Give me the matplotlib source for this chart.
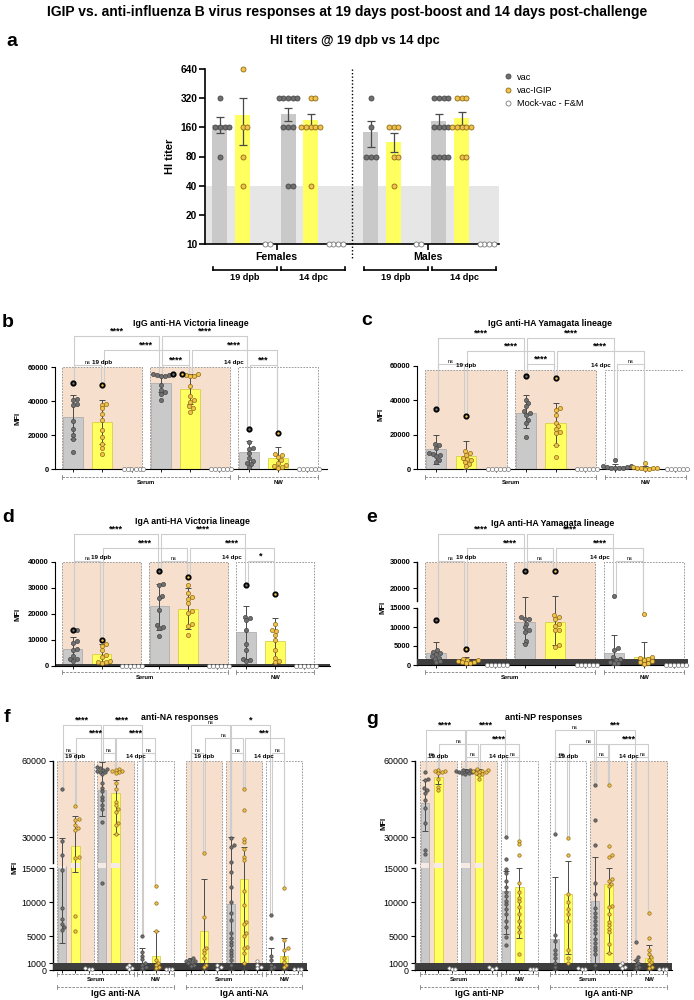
import numpy as np
import matplotlib.pyplot as plt
from matplotlib.lines import Line2D
from matplotlib.patches import Rectangle
from matplotlib.ticker import NullLocator

plt.rcParams['font.family'] = ['Liberation Sans', 'DejaVu Sans']

# ---------------- panel a : HI titers ----------------
# order: Females 19 dpb, Females 14 dpc, Males 19 dpb, Males 14 dpc
a_sexes = ['Females', 'Males']
a_times = ['19 dpb', '14 dpc', '19 dpb', '14 dpc']
a_ticks = [10, 20, 40, 80, 160, 320, 640]
a_vac_mean = [170, 221, 144, 187]
a_vac_lo = [140, 187, 100, 160]
a_vac_hi = [205, 253, 185, 220]
a_igip_mean = [216, 189, 113, 200]
a_igip_lo = [105, 162, 90, 170]
a_igip_hi = [320, 222, 140, 230]
a_vac_pts = [[320, 160, 160, 160, 160, 80],
             [320, 320, 320, 320, 320, 160, 160, 160, 40, 40],
             [320, 160, 80, 80, 80],
             [320, 320, 320, 320, 160, 160, 160, 160, 80, 80, 80, 80]]
a_igip_pts = [[640, 160, 160, 80, 40],
              [320, 320, 160, 160, 160, 160, 160, 40],
              [160, 160, 160, 80, 80, 40],
              [320, 320, 320, 160, 160, 160, 160, 160, 80, 80]]
a_mock_pts = [[10, 10], [10, 10, 10, 10], [10, 10], [10, 10, 10, 10]]
a_legend = ['vac', 'vac-IGIP', 'Mock-vac - F&M']

# ---------------- panels b-e : groups = serum 19 dpb, serum 14 dpc, NW (vac, vac-IGIP, mock) ----
b_mean = [30300, 27700, 0, 50600, 47300, 0, 9800, 6300, 0]
b_lo = [17400, 14700, 0, 45300, 38500, 0, 2700, 400, 0]
b_hi = [43800, 40800, 0, 55500, 56100, 0, 16600, 12700, 0]
b_pts = [[50800, 41400, 40400, 38000, 37500, 28300, 23500, 19800, 17400, 10200],
         [49600, 38500, 37900, 35600, 32200, 28700, 23200, 18600, 14700, 12100, 8600],
         [0, 0, 0, 0, 0, 0],
         [56000, 55800, 55500, 55200, 55000, 54800, 49200, 46700, 45300, 44000, 40400],
         [56100, 55800, 55500, 55000, 54800, 48800, 43000, 40300, 39500, 37000, 35700, 33800],
         [0, 0, 0, 0, 0, 0],
         [23800, 16000, 12100, 11500, 9200, 6300, 4900, 3700, 2900, 1400],
         [21300, 8800, 8200, 7200, 5300, 3700, 2300, 1800, 1400, 800],
         [0, 0, 0, 0, 0, 0]]
b_hl = [0, 1, 3, 4, 6, 7]
b_sig = [(0, 1, 0, 'ns'), (3, 4, 0, '****'), (6, 7, 0, '***'), (1, 4, 1, '****'),
         (4, 7, 1, '****'), (0, 3, 2, '****'), (3, 6, 2, '****')]

c_mean = [11600, 7700, 0, 32900, 26700, 0, 1500, 1000, 0]
c_lo = [2900, 0, 0, 23800, 14100, 0, 400, 300, 0]
c_hi = [19900, 16100, 0, 43100, 38700, 0, 2900, 1700, 0]
c_pts = [[34800, 14700, 14100, 12200, 9200, 8900, 8300, 7400, 5400, 3900],
         [31000, 10300, 9300, 8300, 6400, 5800, 5000, 3900, 3100, 1500],
         [0, 0, 0, 0, 0, 0],
         [54200, 40200, 38300, 36800, 33500, 32900, 31500, 28600, 26700, 18400],
         [53200, 35400, 34400, 31500, 26700, 24800, 23200, 21300, 20900, 14100, 7000],
         [0, 0, 0, 0, 0, 0],
         [5400, 1900, 1500, 1200, 1000, 800, 600, 400, 300],
         [3500, 900, 700, 500, 400, 300, 200, 100],
         [0, 0, 0, 0, 0, 0]]
c_hl = [0, 1, 3, 4]
c_sig = [(0, 1, 0, 'ns'), (3, 4, 0, '****'), (6, 7, 0, 'ns'), (1, 4, 1, '****'),
         (4, 7, 1, '****'), (0, 3, 2, '****'), (3, 6, 2, '****')]

d_mean = [6700, 4800, 0, 23100, 21900, 0, 12900, 9500, 0]
d_lo = [2200, 1300, 0, 13800, 14100, 0, 2600, 1200, 0]
d_hi = [11200, 8300, 0, 31500, 29900, 0, 23200, 18300, 0]
d_pts = [[13800, 13800, 9500, 9000, 6700, 6100, 3900, 2800, 2600, 1800],
         [9900, 8300, 7700, 6100, 4400, 3500, 1800, 1700, 1500, 1300],
         [0, 0, 0, 0, 0, 0],
         [36400, 31500, 31200, 27100, 26000, 21500, 15700, 15100, 14700, 11600],
         [34200, 31200, 28000, 26700, 25800, 24100, 21200, 20300, 16000, 15500, 12100],
         [0, 0, 0, 0, 0, 0],
         [31000, 19000, 18300, 17700, 13800, 8600, 6100, 2800, 2200, 1800],
         [27600, 16000, 13800, 13400, 12100, 9900, 6100, 3100, 1800, 1500],
         [0, 0, 0, 0, 0, 0]]
d_hl = [0, 1, 3, 4, 6, 7]
d_sig = [(0, 1, 0, 'ns'), (3, 4, 0, 'ns'), (6, 7, 0, '*'), (1, 4, 1, '****'),
         (4, 7, 1, '****'), (0, 3, 2, '****'), (3, 6, 2, '****')]

e_mean = [3050, 1300, 0, 11200, 11200, 0, 3050, 2200, 0]
e_lo = [700, 400, 0, 5700, 5200, 0, 0, 0, 0]
e_hi = [6100, 2200, 0, 16700, 16900, 0, 8000, 6100, 0]
e_pts = [[11800, 3900, 3500, 3200, 2800, 2400, 1900, 1600, 1000, 700],
         [4100, 1600, 1400, 1300, 1100, 900, 700, 500, 400],
         [0, 0, 0, 0, 0, 0],
         [26400, 12600, 12200, 12000, 10900, 10000, 9200, 8700, 6300, 5400],
         [26600, 13100, 12600, 12200, 10900, 10300, 9300, 9200, 5200, 4800],
         [0, 0, 0, 0, 0, 0],
         [17100, 4400, 3900, 2000, 1700, 1300, 900, 600, 400],
         [13500, 2200, 1900, 1700, 1300, 1000, 700, 400, 300],
         [0, 0, 0, 0, 0, 0]]
e_hl = [0, 1, 3, 4]
e_sig = [(0, 1, 0, 'ns'), (3, 4, 0, 'ns'), (6, 7, 0, 'ns'), (1, 4, 1, '****'),
         (4, 7, 1, '****'), (0, 3, 2, '****'), (3, 6, 2, '****')]

# ---------------- panels f-g : IgG block then IgA block ----------------
f_mean = [16800, 26500, 0, 48600, 47400, 0, 700, 2100, 0,
          1400, 5800, 0, 9800, 13400, 0, 1100, 2100, 0]
f_lo = [4000, 14500, 0, 38400, 31300, 0, 0, 0, 0,
        1000, 0, 0, 0, 0, 0, 0, 0, 0]
f_hi = [29800, 38500, 0, 59600, 52600, 0, 3200, 5800, 0,
        1800, 13500, 0, 30000, 26100, 0, 3200, 4800, 0]
f_pts = [[48900, 28500, 22900, 14800, 9200, 7600, 6800, 6300, 5900],
         [42100, 37100, 36800, 34600, 33700, 32900, 22200, 21900, 8000, 5700],
         [300, 200, 200],
         [57500, 57200, 56800, 56500, 56100, 55800, 55500, 54800, 51300, 49300, 48000,
          46000, 44700, 42700, 41000, 36100, 12800],
         [56800, 56500, 56200, 55900, 55500, 55200, 51300, 49000, 44000, 42700, 41000,
          40100, 35600, 34600, 31400],
         [800, 500, 300, 200],
         [5000, 2700, 2100, 1600, 1000, 700, 500, 250],
         [12400, 9900, 5700, 1500, 1100, 700, 400, 250],
         [200, 200, 200],
         [1700, 1500, 1400, 1300, 1200, 1000, 800, 600],
         [23800, 7900, 3300, 3000, 2500, 1700, 700, 400],
         [800, 400, 200],
         [29800, 26800, 26100, 20100, 14500, 12300, 10100, 8400, 7400, 5400, 4700, 4200,
          3700, 3000, 2500, 2000, 1500, 700],
         [48900, 40500, 29400, 28100, 25500, 22200, 20900, 11700, 9600, 7100, 6800, 5400,
          5000, 3400, 3200, 2500, 1100],
         [1400, 800, 500, 300],
         [8100, 4700, 2000, 1500, 700, 400, 250],
         [12100, 4400, 3200, 3000, 1700, 1200, 700, 400],
         [200, 200, 200]]
f_sig = [(0, 1, 0, 'ns'), (3, 4, 0, 'ns'), (6, 7, 0, 'ns'), (1, 4, 1, '****'),
         (4, 7, 1, '****'), (0, 3, 2, '****'), (3, 6, 2, '****'),
         (9, 10, 0, 'ns'), (12, 13, 0, 'ns'), (15, 16, 0, 'ns'), (10, 13, 1, 'ns'),
         (13, 16, 1, '***'), (9, 12, 2, 'ns'), (12, 15, 2, '*')]
f_blocks = ['IgG anti-NA', 'IgA anti-NA']

g_mean = [43600, 53700, 0, 56000, 55600, 0, 11700, 12300, 0,
          4600, 11300, 0, 10200, 12700, 0, 700, 1700, 0]
g_lo = [32500, 51100, 0, 55200, 54500, 0, 5300, 4800, 0,
        0, 2400, 0, 0, 2500, 0, 0, 0, 0]
g_hi = [52400, 55600, 0, 56800, 56700, 0, 14600, 15000, 0,
        13700, 20500, 0, 22200, 15000, 0, 1500, 3700, 0]
g_pts = [[55600, 53000, 52400, 49200, 48500, 47500, 44700, 41500, 35400, 24800, 23500],
         [56500, 56200, 56000, 55600, 55300, 53000, 49800, 48500],
         [300, 200, 200],
         [56600, 56400, 56200, 56000, 55900, 55700, 55500, 55300, 55100, 54800],
         [56700, 56500, 56200, 56000, 55800, 55500, 55200, 54900, 54500, 53000],
         [400, 300, 200],
         [29900, 21500, 14900, 14400, 13200, 12200, 11500, 11000, 10200, 9700, 9000, 8300,
          7300, 6300, 4900, 3700],
         [28600, 27300, 22800, 12800, 11500, 10700, 10200, 9300, 8300, 7300, 6300, 5600, 2400],
         [200, 200, 200],
         [31100, 5100, 4300, 2900, 2400, 1700, 1000, 400],
         [29500, 23100, 11200, 10000, 9000, 8300, 7300, 2900, 1700, 1100],
         [300, 200, 100],
         [50500, 36700, 26900, 12800, 11300, 9200, 8400, 7800, 7300, 6700, 6100, 5400, 4600,
          4000, 3400, 2900, 2400, 700],
         [50500, 26400, 22800, 22200, 13400, 13200, 12700, 12400, 9500, 9300, 8300, 7100,
          6600, 6100, 5600, 3900, 2500],
         [1000, 700, 500, 300],
         [4100, 1900, 1500, 1100, 700, 400, 250],
         [8400, 4800, 2900, 2400, 1900, 1500, 1200, 900, 500, 250],
         [200, 200, 200]]
g_sig = [(0, 1, 0, 'ns'), (3, 4, 0, 'ns'), (6, 7, 0, 'ns'), (1, 4, 1, 'ns'),
         (4, 7, 1, '****'), (0, 3, 2, '****'), (3, 6, 2, '****'),
         (9, 10, 0, 'ns'), (12, 13, 0, 'ns'), (15, 16, 0, 'ns'), (10, 13, 1, 'ns'),
         (13, 16, 1, '****'), (9, 12, 2, 'ns'), (12, 15, 2, '***')]
g_blocks = ['IgG anti-NP', 'IgA anti-NP']

# ---------------- styling ----------------
W, H = 694, 1000
KIND = ['vac', 'igip', 'mock']
BAR = {'vac': ('#c9c9c9', '#a6a6a6'), 'igip': ('#ffff60', '#d2c83c')}
PT = {'vac': ('#707070', '#474747'), 'igip': ('#f1c24c', '#8d6c18'), 'mock': ('white', '#7a7a7a')}
PEACH = '#f7dfcd'
LINE = '#cdcdcd'

fig = plt.figure(figsize=(W / 100, H / 100), dpi=100)


def add_ax(l, t, r, b):
    return fig.add_axes([l / W, 1 - b / H, (r - l) / W, (b - t) / H])


def swarm(ax, xc, ys, d):
    ys = np.asarray(ys, float)
    xy = ax.transData.transform(np.column_stack([np.full(len(ys), xc), ys]))
    x0, py = xy[0, 0], xy[:, 1]
    steps = [0.0]
    for k in range(1, 60):
        steps += [k * d / 3, -k * d / 3]
    px = np.zeros(len(ys))
    done = []
    for i in np.argsort(py, kind='stable'):
        for s in steps:
            if all((s - px[j]) ** 2 + (py[i] - py[j]) ** 2 >= (0.9 * d) ** 2 for j in done):
                px[i] = s
                break
        done.append(i)
    back = ax.transData.inverted().transform(np.column_stack([x0 + px, py]))
    return back[:, 0]


def dots(ax, x, ys, kind, s, d, lw=0.5, hl=False):
    xs = swarm(ax, x, ys, d)
    fc, ec = PT[kind]
    ax.scatter(xs, ys, s=s, c=fc, edgecolors=ec, linewidths=lw, zorder=5, clip_on=False)
    if hl:
        k = int(np.argmax(ys))
        ax.scatter([xs[k]], [ys[k]], s=s * 1.1, c=fc, edgecolors='black', linewidths=1.3,
                   zorder=6, clip_on=False)


def piecewise(dat, pix):
    dat = np.asarray(dat, float)
    pix = np.asarray(pix, float)
    s0 = (pix[1] - pix[0]) / (dat[1] - dat[0])
    s1 = (pix[-1] - pix[-2]) / (dat[-1] - dat[-2])
    dd = np.r_[dat[0] - 1e7, dat, dat[-1] + 1e7]
    pp = np.r_[pix[0] - 1e7 * s0, pix, pix[-1] + 1e7 * s1]
    return (lambda y: np.interp(y, dd, pp)), (lambda t: np.interp(t, pp, dd))


def under(ax, x0, x1, px, lab, fs, dashed=True, color='#808080', lw=0.6, up_only=False, tpx=3):
    tr = ax.get_xaxis_transform()
    hh = ax.bbox.height
    y = -px / hh
    ax.plot([x0, x1], [y, y], transform=tr, color=color, lw=lw,
            ls=(0, (3, 1.5)) if dashed else '-', clip_on=False)
    for x in (x0, x1):
        ax.plot([x, x], [y, y + 3 / hh] if up_only else [y - 2 / hh, y + 2 / hh],
                transform=tr, color=color, lw=lw, clip_on=False)
    ax.text((x0 + x1) / 2, y - tpx / hh, lab, transform=tr, ha='center', va='top',
            fontsize=fs, fontweight='bold')


def sig(ax, pos, i, j, px, lab, tops):
    tr = ax.get_xaxis_transform()
    hh = ax.bbox.height
    xi, xj = pos[i] + 0.05, pos[j] - 0.05
    h = 1 + px / hh
    ax.plot([xi, xi, xj, xj], [1, h, h, 1], transform=tr, color=LINE, lw=0.8,
            clip_on=False, zorder=1.5)
    ytop = ax.get_ylim()[1]
    for x, k in ((xi, i), (xj, j)):
        ax.plot([x, x], [ytop, tops[k]], color=LINE, lw=0.8, zorder=1.5)
    star = '*' in lab
    ax.text((xi + xj) / 2, h + 0.3 / hh, lab, transform=tr, ha='center', va='bottom',
            fontsize=6.5 if star else 4, fontweight='bold' if star else 'normal')


def mfi_panel(box, pos, xlim, ylim, yticks, mean, lo, hi, pts, hl, sigs, rows, kinds,
              rect_top, title, title_y, ylab_xy, under_px, blocks=None, brk=None, band=None,
              s=9, d=4.0, bw=0.68, tfs=5.4, tbold=True, tfs_title=6.3):
    ax = add_ax(*box)
    if brk is not None:
        ax.set_yscale('function', functions=piecewise(*brk))
    ax.set_xlim(*xlim)
    ax.set_ylim(*ylim)
    for sp in ('top', 'right'):
        ax.spines[sp].set_visible(False)
    ax.set_yticks(yticks, [str(t) for t in yticks], fontsize=tfs,
                  fontweight='bold' if tbold else 'normal')
    ax.yaxis.set_minor_locator(NullLocator())
    ax.tick_params(axis='y', length=3, width=0.8, pad=1.5)
    ax.set_xticks(pos)
    ax.tick_params(axis='x', length=2.5, width=0.6, labelbottom=False)
    if brk is not None:
        ax.spines['left'].set_visible(False)
        ytr = ax.get_yaxis_transform()
        ax.plot([0, 0], [ylim[0], brk[0][1]], transform=ytr, color='black', lw=1, clip_on=False)
        ax.plot([0, 0], [brk[0][2], ylim[1]], transform=ytr, color='black', lw=1, clip_on=False)

    # background frames
    for r, kind in enumerate(kinds):
        x0, x1 = pos[3 * r] - 0.36, pos[3 * r + 2] + 0.36
        ax.add_patch(Rectangle((x0, 0), x1 - x0, rect_top, facecolor=PEACH if kind else 'none',
                               edgecolor='#8c8c8c', lw=0.6, ls=(0, (2, 1.5)), zorder=0.5))
    for r in range(0, len(kinds), 3):
        c0 = (pos[3 * r] + pos[3 * r + 2]) / 2
        ax.annotate('19 dpb', (c0, rect_top), xytext=(0, 1.5), textcoords='offset points',
                    ha='center', va='bottom', fontsize=4.5, fontweight='bold', annotation_clip=False)
        c1 = (pos[3 * r + 3] + pos[3 * r + 8]) / 2
        ax.annotate('14 dpc', (c1, rect_top), xytext=(0, 1.5), textcoords='offset points',
                    ha='center', va='bottom', fontsize=4.5, fontweight='bold', annotation_clip=False)
        under(ax, pos[3 * r] - 0.36, pos[3 * r + 5] + 0.36, under_px, 'Serum', 4.2)
        under(ax, pos[3 * r + 6] - 0.36, pos[3 * r + 8] + 0.36, under_px, 'NW', 4.2)
        if blocks is not None:
            under(ax, pos[3 * r] - 0.36, pos[3 * r + 8] + 0.36, under_px + 13, blocks[r // 3],
                  6.4, tpx=2)

    if band is not None:
        ax.axhspan(0, band, color='#3e3e3e', zorder=2.5, lw=0)

    for i, x in enumerate(pos):
        k = KIND[i % 3]
        if k != 'mock':
            fc, ec = BAR[k]
            ax.bar(x, mean[i], width=bw, color=fc, edgecolor=ec, linewidth=0.5, zorder=2)
            if brk is not None and mean[i] > brk[0][1]:
                ax.bar(x, min(mean[i], brk[0][2]) - brk[0][1], bottom=brk[0][1], width=bw,
                       color='#f6ebe4', lw=0, zorder=2.3)
            ax.errorbar(x, mean[i], yerr=[[mean[i] - lo[i]], [hi[i] - mean[i]]], fmt='none',
                        ecolor='#4a4a4a', elinewidth=0.7, capsize=2.2, capthick=0.7, zorder=4)
        dots(ax, x, pts[i], k, s, d, lw=0.5, hl=(i in hl))

    tops = [max(max(p), hv) for p, hv in zip(pts, hi)]
    for i, j, row, lab in sigs:
        sig(ax, pos, i, j, rows[row], lab, tops)

    bb = ax.get_position()
    fig.text((bb.x0 + bb.x1) / 2, 1 - title_y / H, title, ha='center', va='center',
             fontsize=tfs_title, fontweight='bold')
    fig.text(ylab_xy[0] / W, 1 - ylab_xy[1] / H, 'MFI', rotation=90, ha='center', va='center',
             fontsize=5.5, fontweight='bold')
    return ax


# ---------------- title & letters ----------------
fig.text(0.5, 1 - 12 / H,
         'IGIP vs. anti-influenza B virus responses at 19 days post-boost and 14 days post-challenge',
         ha='center', va='center', fontsize=10, fontweight='bold')
for lab, x, y in (('a', 12, 42), ('b', 8, 322), ('c', 367, 320), ('d', 8, 518),
                  ('e', 372, 518), ('f', 7, 718), ('g', 372, 720)):
    fig.text(x / W, 1 - y / H, lab, ha='center', va='center', fontsize=14, fontweight='bold')

# ---------------- panel a ----------------
ax = add_ax(205, 69, 499, 244)
ax.set_yscale('log', base=2)
ax.set_ylim(10, 640)
ax.set_xlim(-0.66, 12.3)
ax.yaxis.set_minor_locator(NullLocator())
ax.set_yticks(a_ticks, [str(t) for t in a_ticks], fontsize=7.3, fontweight='bold')
for sp in ('top', 'right'):
    ax.spines[sp].set_visible(False)
for sp in ('left', 'bottom'):
    ax.spines[sp].set_linewidth(1.2)
ax.axhspan(10, 40, color='#e6e6e6', zorder=0, lw=0)
a_pos = np.r_[np.arange(6), np.arange(6) + 6.65]
for g in range(4):
    xv, xi, xm = a_pos[3 * g], a_pos[3 * g + 1], a_pos[3 * g + 2]
    for x, m, l, h, p, k in ((xv, a_vac_mean[g], a_vac_lo[g], a_vac_hi[g], a_vac_pts[g], 'vac'),
                             (xi, a_igip_mean[g], a_igip_lo[g], a_igip_hi[g], a_igip_pts[g], 'igip')):
        ax.bar(x, m - 10, bottom=10, width=0.66, color=BAR[k][0], lw=0, zorder=2)
        ax.errorbar(x, m, yerr=[[m - l], [h - m]], fmt='none', ecolor='#4a4a4a',
                    elinewidth=0.9, capsize=2.6, capthick=0.9, zorder=4)
        dots(ax, x, p, k, 13, 4.7, lw=0.6)
    dots(ax, xm, a_mock_pts[g], 'mock', 13, 4.7, lw=0.6)
    under(ax, a_pos[3 * g] - 0.3, a_pos[3 * g + 2] + 0.52, 26, a_times[g], 6.6,
          dashed=False, color='black', lw=1.2, up_only=True, tpx=3)
ax.set_xticks([(a_pos[0] + a_pos[5]) / 2, (a_pos[6] + a_pos[11]) / 2], a_sexes,
              fontsize=7.6, fontweight='bold')
ax.tick_params(axis='x', length=4, width=1.2, pad=1.5)
ax.tick_params(axis='y', length=4, width=1.2, pad=1.5)
ax.plot([(a_pos[5] + a_pos[6]) / 2] * 2, [1, -16 / ax.bbox.height], transform=ax.get_xaxis_transform(),
        color='black', ls=(0, (1, 1.5)), lw=1, clip_on=False)
ax.set_ylabel('HI titer', fontsize=8, fontweight='bold', labelpad=4)
fig.text(355 / W, 1 - 41 / H, 'HI titers @ 19 dpb vs 14 dpc', ha='center', va='center',
         fontsize=9.2, fontweight='bold')
handles = [Line2D([], [], ls='none', marker='o', ms=3.6, mfc=PT[k][0], mec=PT[k][1], mew=0.6)
           for k in KIND]
fig.legend(handles, a_legend, loc='upper left', bbox_to_anchor=(500 / W, 1 - 68 / H), frameon=False,
           fontsize=6.6, handlelength=0.8, handletextpad=0.6, labelspacing=0.45, borderpad=0)

# ---------------- panels b-e ----------------
pos9 = np.arange(9)
mfi_panel((55, 367, 327, 469), pos9, (-0.61, 8.67), (0, 60000), [0, 20000, 40000, 60000],
          b_mean, b_lo, b_hi, b_pts, b_hl, b_sig, (2, 17, 31), [1, 1, 0], 60000,
          'IgG anti-HA Victoria lineage', 323, (18, 418), 8)
mfi_panel((417, 366, 684, 469), pos9, (-0.64, 8.3), (0, 60000), [0, 20000, 40000, 60000],
          c_mean, c_lo, c_hi, c_pts, c_hl, c_sig, (2, 15, 28), [1, 1, 0], 57500,
          'IgG anti-HA Yamagata lineage', 323, (381, 414), 8)
mfi_panel((55, 562, 330, 666), pos9, (-0.61, 8.9), (0, 40000), [0, 10000, 20000, 30000, 40000],
          d_mean, d_lo, d_hi, d_pts, d_hl, d_sig, (1, 14, 28), [1, 1, 0], 40000,
          'IgA anti-HA Victoria lineage', 522, (18, 614), 6, band=900)
mfi_panel((417, 562, 688, 665), pos9, (-0.64, 8.48), (0, 30000),
          [0, 5000, 10000, 15000, 20000, 30000],
          e_mean, e_lo, e_hi, e_pts, e_hl, e_sig, (1, 14, 28), [1, 1, 0], 30000,
          'IgA anti-HA Yamagata lineage', 523, (383, 607), 7, band=1500,
          brk=([0, 15000, 15001, 30000], [0, 57, 64, 103]))

# ---------------- panels f-g ----------------
pos18 = np.r_[np.arange(9), np.arange(9) + 9.6]
f_ticks = [0, 1000, 5000, 10000, 15000, 30000, 60000]
mfi_panel((53, 761, 307, 970), pos18, (-0.67, 18.3), (0, 60000), f_ticks,
          f_mean, f_lo, f_hi, f_pts, [], f_sig, (8, 23, 36), [1, 1, 0, 1, 1, 0], 60000,
          'anti-NA responses', 718, (15, 867), 4, blocks=f_blocks, band=1000,
          brk=([0, 15000, 20000, 60000], [0, 102, 108, 210]),
          s=6, d=3.3, bw=0.62, tfs=6.4, tbold=False)
mfi_panel((415, 761, 672, 970), pos18, (-0.74, 18.3), (0, 60000), f_ticks,
          g_mean, g_lo, g_hi, g_pts, [], g_sig, (4, 17, 31), [1, 1, 0, 0, 1, 1], 60000,
          'anti-NP responses', 718, (384, 823), 4, blocks=g_blocks, band=1000,
          brk=([0, 15000, 20000, 60000], [0, 102, 108, 210]),
          s=6, d=3.3, bw=0.62, tfs=6.4, tbold=False)

fig.savefig('out.png', dpi=100)
